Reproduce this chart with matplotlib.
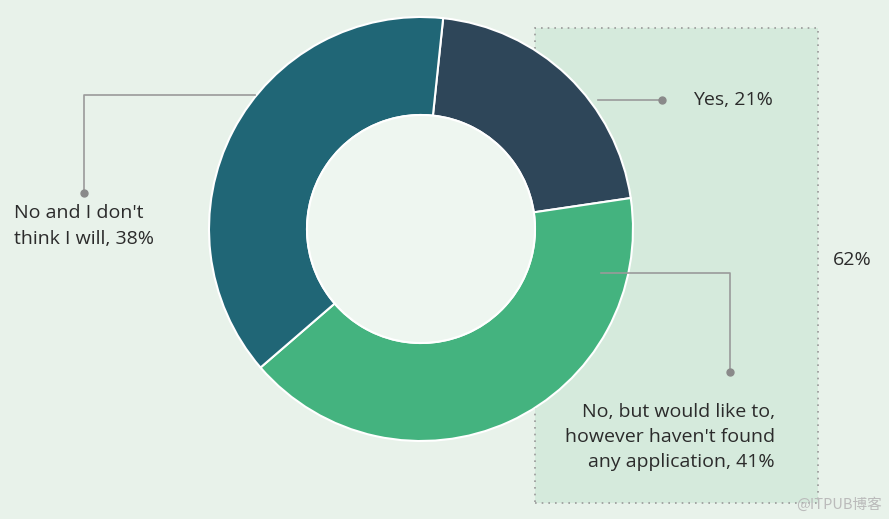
import matplotlib.pyplot as plt
from matplotlib.patches import Rectangle, Circle

labels = ["Yes, 21%", "No, but would like to,\nhowever haven't found\nany application, 41%",
          "No and I don't\nthink I will, 38%"]
values = [21, 41, 38]
colors = ["#2e4659", "#44b37f", "#206676"]
group_label = "62%"

W, H = 889, 519
plt.rcParams['font.family'] = ['Open Sans', 'DejaVu Sans']

fig = plt.figure(figsize=(W / 100, H / 100), dpi=100)
fig.patch.set_facecolor("#e8f2ea")
ax = fig.add_axes([0, 0, 1, 1])
ax.set_xlim(0, W)
ax.set_ylim(0, H)
ax.set_aspect("equal")
ax.axis("off")


def py(y):
    # pixel row -> data y
    return H - y


# dotted box around the "62%" group
ax.add_patch(Rectangle((535, py(503)), 283, 475, facecolor="#d5eadc",
                       edgecolor="#999999", linestyle=(0, (1, 3)), lw=1.2, zorder=1))

cx, cy, r = 421, py(229), 212
ax.pie(values, colors=colors, startangle=84, counterclock=False,
       center=(cx, cy), radius=r, frame=True,
       wedgeprops=dict(width=r - 114, edgecolor="white", linewidth=1.5))
ax.add_patch(Circle((cx, cy), 114, facecolor="#eef6f0", edgecolor="white", lw=1.5, zorder=3))
ax.set_xlim(0, W)
ax.set_ylim(0, H)
ax.axis("off")

line_kw = dict(color="#9a9a9a", lw=1.2, zorder=4)
dot_kw = dict(color="#8a8a8a", marker="o", ms=5, zorder=5)
text_kw = dict(fontsize=14, color="#2b2b2b", linespacing=1.52, zorder=6)

# Yes
ax.plot([598, 662], [py(100), py(100)], **line_kw)
ax.plot([662], [py(100)], **dot_kw)
ax.text(693, py(100), labels[0], ha="left", va="center", **text_kw)

# No, but would like to
ax.plot([601, 730, 730], [py(273), py(273), py(372)], **line_kw)
ax.plot([730], [py(372)], **dot_kw)
ax.text(775, py(437), labels[1], ha="right", va="center", **text_kw)

# No and I don't think I will
ax.plot([255, 84, 84], [py(95), py(95), py(193)], **line_kw)
ax.plot([84], [py(193)], **dot_kw)
ax.text(14, py(226), labels[2], ha="left", va="center", **text_kw)

ax.text(852, py(260), group_label, ha="center", va="center", **text_kw)

ax.text(882, py(505), "@ITPUB博客", ha="right", va="center", fontsize=10.5,
        color="#bbbbbb", family=["Noto Sans CJK SC", "DejaVu Sans"], zorder=6)

fig.savefig("out.png", dpi=100, facecolor=fig.get_facecolor())
